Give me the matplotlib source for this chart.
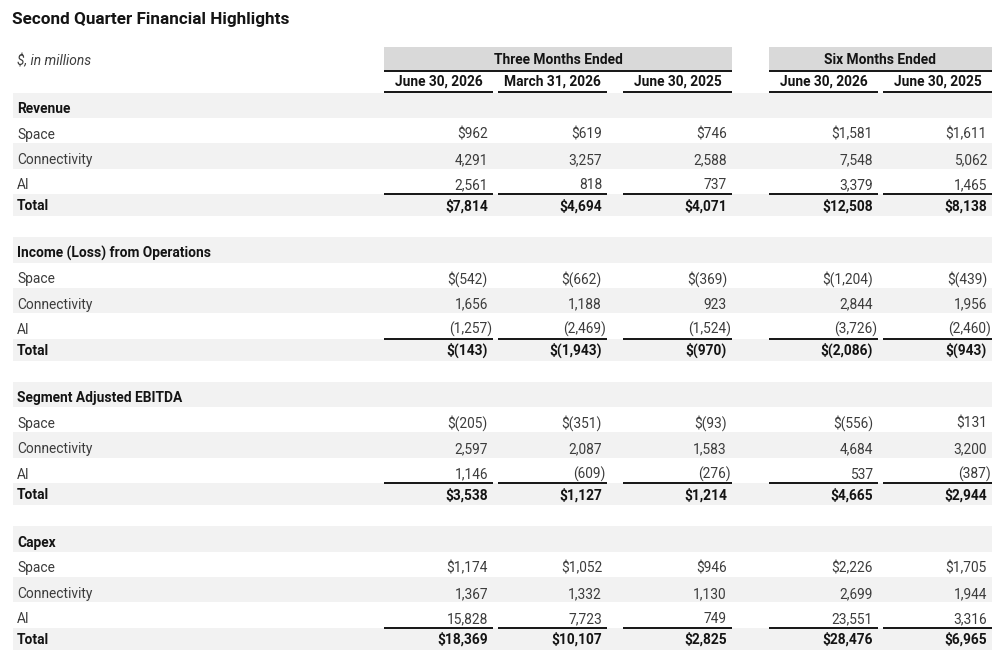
import matplotlib
import matplotlib.pyplot as plt
from matplotlib.patches import Rectangle
plt.switch_backend('agg')

title = "Second Quarter Financial Highlights"
unit_note = "$, in millions"
group_labels = ["Three Months Ended", "Six Months Ended"]
period_labels = ["June 30, 2026", "March 31, 2026", "June 30, 2025", "June 30, 2026", "June 30, 2025"]
sections = ["Revenue", "Income (Loss) from Operations", "Segment Adjusted EBITDA", "Capex"]
segments = ["Space", "Connectivity", "AI"]

revenue = [[962, 619, 746, 1581, 1611],
           [4291, 3257, 2588, 7548, 5062],
           [2561, 818, 737, 3379, 1465]]
revenue_total = [7814, 4694, 4071, 12508, 8138]

income_ops = [[-542, -662, -369, -1204, -439],
              [1656, 1188, 923, 2844, 1956],
              [-1257, -2469, -1524, -3726, -2460]]
income_ops_total = [-143, -1943, -970, -2086, -943]

ebitda = [[-205, -351, -93, -556, 131],
          [2597, 2087, 1583, 4684, 3200],
          [1146, -609, -276, 537, -387]]
ebitda_total = [3538, 1127, 1214, 4665, 2944]

capex = [[1174, 1052, 946, 2226, 1705],
         [1367, 1332, 1130, 2699, 1944],
         [15828, 7723, 749, 23551, 3316]]
capex_total = [18369, 10107, 2825, 28476, 6965]

section_data = [(revenue, revenue_total), (income_ops, income_ops_total),
                (ebitda, ebitda_total), (capex, capex_total)]

FONT = "Roboto"
FS = 9.9
STRIPE = "#f2f2f2"
BOX = "#d9d9d9"
TXT = "#3c3c3c"
DARK = "#141414"

# column extents in pixels
col_left = [384, 498, 623, 769, 883]
col_right = [493, 607, 732, 878, 992]


def fmt(v, dollar):
	s = "{:,}".format(abs(v))
	if v < 0:
		s = "(" + s + ")"
	if dollar:
		s = "$" + s
	return s


def put(ax, x, y, s, ha='left', bold=False, color=TXT, **kw):
	# y is the baseline
	ax.text(x, y, s, ha=ha, va='baseline', fontsize=FS, family=FONT,
			fontweight='bold' if bold else 'normal', color=color, **kw)


def draw_values(ax, y, vals, dollar, bold):
	for i, v in enumerate(vals):
		x = col_right[i] - 5
		if v < 0 and not dollar:
			x += 4
		put(ax, x, y, fmt(v, dollar), ha='right', bold=bold, color=DARK if bold else TXT)


def main():
	fig = plt.figure(figsize=(10, 6.57), dpi=100)
	ax = fig.add_axes([0, 0, 1, 1])
	ax.set_xlim(0, 1000)
	ax.set_ylim(657, 0)
	ax.axis('off')

	ax.text(12, 24, title, ha='left', va='baseline', fontsize=12.3, family=FONT,
			fontweight='bold', color=DARK)
	put(ax, 17, 65, unit_note, style='italic')

	# group header boxes
	for g, (a, b) in zip(group_labels, [(0, 2), (3, 4)]):
		x0, x1 = col_left[a], col_right[b]
		ax.add_patch(Rectangle((x0, 47), x1 - x0, 23, color=BOX, lw=0))
		ax.plot([x0, x1], [70.5, 70.5], color=DARK, lw=1.4, solid_capstyle='butt')
		put(ax, (x0 + x1) / 2, 64.5, g, ha='center', bold=True, color=DARK)

	for i, p in enumerate(period_labels):
		put(ax, (col_left[i] + col_right[i]) / 2, 86, p, ha='center', bold=True, color=DARK)
		ax.plot([col_left[i], col_right[i]], [92, 92], color=DARK, lw=1.4,
				solid_capstyle='butt')

	row_h = 25.4
	total_h = 22
	gap_h = 21
	y = 92.5
	for name, (rows, total) in zip(sections, section_data):
		# section header
		ax.add_patch(Rectangle((13, y), 979, row_h, color=STRIPE, lw=0, zorder=0))
		put(ax, 17, y + row_h / 2 + 8, name, bold=True, color=DARK)
		y += row_h
		stripe = False
		for k, (seg, vals) in enumerate(zip(segments, rows)):
			if stripe:
				ax.add_patch(Rectangle((13, y), 979, row_h, color=STRIPE, lw=0, zorder=0))
			put(ax, 17, y + row_h / 2 + 8, seg)
			draw_values(ax, y + row_h / 2 + 8, vals, dollar=(k == 0), bold=False)
			y += row_h
			stripe = not stripe
		# total row
		ax.add_patch(Rectangle((13, y), 979, total_h, color=STRIPE, lw=0, zorder=0))
		for i in range(5):
			ax.plot([col_left[i], col_right[i]], [y, y], color=DARK, lw=1.4,
					solid_capstyle='butt')
		put(ax, 17, y + total_h / 2 + 5, "Total", bold=True, color=DARK)
		draw_values(ax, y + total_h / 2 + 5, total, dollar=True, bold=True)
		y += total_h + gap_h

	fig.savefig('out.png', dpi=100)


if __name__ == "__main__":
	main()
